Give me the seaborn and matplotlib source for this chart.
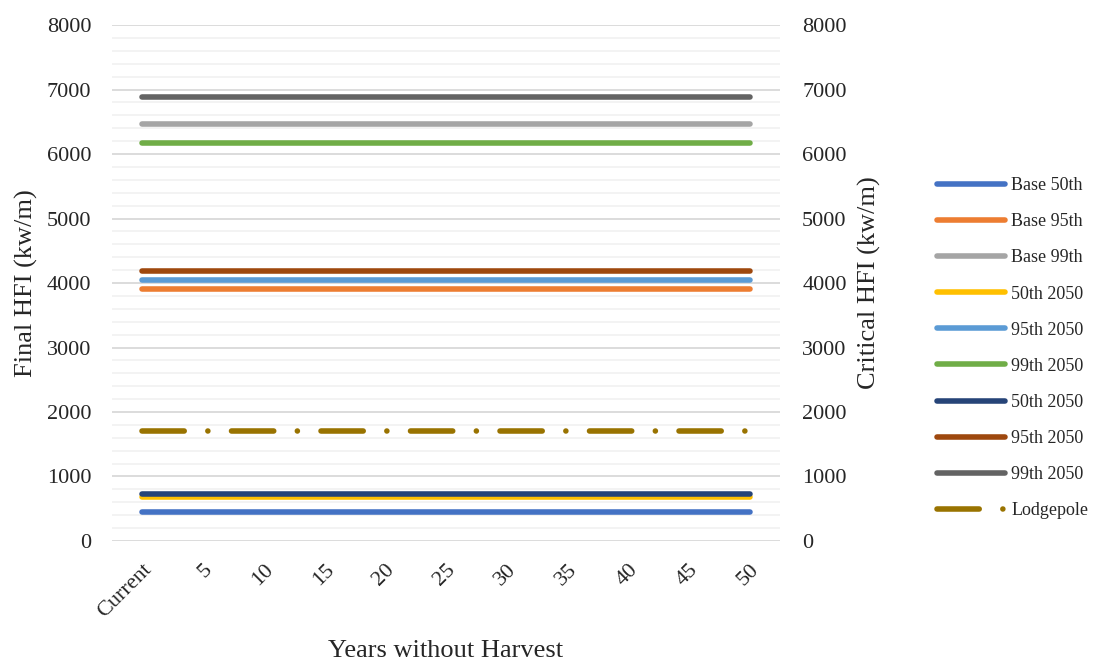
import matplotlib
matplotlib.use("Agg")
import matplotlib.pyplot as plt
import seaborn as sns
import numpy as np
import pandas as pd
from matplotlib.lines import Line2D

sns.set_theme(style="white")
plt.rcParams['font.family'] = ['Liberation Serif', 'DejaVu Serif']

categories = ["Current", "5", "10", "15", "20", "25", "30", "35", "40", "45", "50"]
series_names = ["Base 50th", "Base 95th", "Base 99th", "50th 2050", "95th 2050",
                "99th 2050", "50th 2050", "95th 2050", "99th 2050", "Lodgepole"]
base_50 = [455] * 11
base_95 = [3900] * 11
base_99 = [6470] * 11
p50_2050_a = [675] * 11
p95_2050_a = [4050] * 11
p99_2050_a = [6170] * 11
p50_2050_b = [725] * 11
p95_2050_b = [4190] * 11
p99_2050_b = [6890] * 11
lodgepole = [1700] * 11
series_values = [base_50, base_95, base_99, p50_2050_a, p95_2050_a,
                 p99_2050_a, p50_2050_b, p95_2050_b, p99_2050_b, lodgepole]
colors = ["#4472C4", "#ED7D31", "#A5A5A5", "#FFC000", "#5B9BD5",
          "#70AD47", "#264478", "#9E480E", "#636363", "#997300"]

fig = plt.figure(figsize=(10.93, 6.62), dpi=100)
ax = fig.add_axes([0.1025, 0.1828, 0.6111, 0.7794])

xpos = np.arange(len(categories))
lw = 4.0
dash = (0, (7.6, 4.25, 0.01, 4.25))
handles = []
for name, vals, col in zip(series_names, series_values, colors):
    df = pd.DataFrame({"x": xpos, "y": vals})
    n_before = len(ax.lines)
    sns.lineplot(data=df, x="x", y="y", ax=ax, color=col, linewidth=lw,
                 legend=False, zorder=3)
    line = ax.lines[n_before]
    line.set_solid_capstyle("round")
    if name == "Lodgepole":
        line.set_linestyle(dash)
        line.set_dash_capstyle("round")
        h = Line2D([], [], color=col, linewidth=lw, linestyle=dash,
                   dash_capstyle="round")
    else:
        h = Line2D([], [], color=col, linewidth=lw, solid_capstyle="round")
    handles.append(h)

ax.set_xlim(-0.5, 10.5)
ax.set_ylim(0, 8000)
ax.set_yticks(np.arange(0, 8001, 1000))
ax.set_yticks(np.arange(0, 8001, 200), minor=True)
ax.grid(which="major", axis="y", color="#D9D9D9", linewidth=1.3, zorder=0)
ax.grid(which="minor", axis="y", color="#F2F2F2", linewidth=1.3, zorder=0)
ax.grid(axis="x", visible=False)
ax.set_xticks(xpos)
ax.set_xticklabels(categories, rotation=45, ha="right", rotation_mode="anchor",
                   fontsize=16)
ax.tick_params(axis="both", which="both", length=0)
ax.tick_params(axis="y", labelsize=16, pad=15)
ax.tick_params(axis="x", pad=14)
for s in ax.spines.values():
    s.set_visible(False)
ax.set_xlabel("Years without Harvest", fontsize=19, labelpad=13)
ax.set_ylabel("Final HFI (kw/m)", fontsize=19, labelpad=6)

ax2 = ax.twinx()
ax2.set_ylim(0, 8000)
ax2.set_yticks(np.arange(0, 8001, 1000))
ax2.tick_params(axis="y", length=0, labelsize=16, pad=16)
ax2.grid(False)
for s in ax2.spines.values():
    s.set_visible(False)
ax2.set_ylabel("Critical HFI (kw/m)", fontsize=19, labelpad=8)

leg = fig.legend(handles, series_names, loc="upper left",
                 bbox_to_anchor=(0.842, 0.757), frameon=False, fontsize=13,
                 handlelength=3.8, handletextpad=0.35, labelspacing=1.06)

fig.savefig("out.png", dpi=100)
